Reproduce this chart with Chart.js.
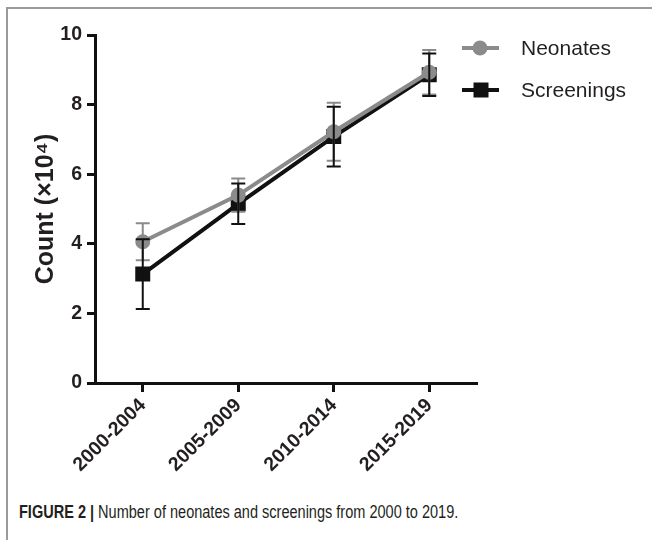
<!DOCTYPE html>
<html>
<head>
<meta charset="utf-8">
<script src="https://cdn.jsdelivr.net/npm/chart.js@4.4.1/dist/chart.umd.min.js"></script>
<style>
  html, body { margin: 0; padding: 0; background: #fff; }
  body { width: 652px; height: 540px; position: relative; overflow: hidden; font-family: "Liberation Sans", Arial, sans-serif; }
  #frame { position: absolute; left: 6px; top: 7px; width: 700px; height: 600px; border-left: 2px solid #9a9a9a; border-top: 2px solid #9a9a9a; }
  #wrap { position: absolute; left: 0; top: 0; width: 652px; height: 480px; }
  #caption { position: absolute; left: 19px; top: 502px; font-size: 17.5px; color: #231f20; white-space: nowrap; transform: scaleX(0.83); transform-origin: 0 0; }
  #caption b { font-weight: bold; }
</style>
</head>
<body>
<div id="frame"></div>
<div id="wrap"><canvas id="c" width="652" height="480"></canvas></div>
<div id="caption"><b>FIGURE 2 |</b> Number of neonates and screenings from 2000 to 2019.</div>
<script>
const categories = ['2000-2004', '2005-2009', '2010-2014', '2015-2019'];
const neonates = [4.06, 5.40, 7.22, 8.93];
const neonatesErr = [0.53, 0.48, 0.83, 0.64];
const screenings = [3.13, 5.15, 7.08, 8.86];
const screeningsErr = [1.00, 0.58, 0.86, 0.61];
const yTicks = [0, 2, 4, 6, 8, 10];
const seriesNames = ['Neonates', 'Screenings'];

const GRAY = '#8b8b8b';
const BLACK = '#111111';

const errorBars = {
  id: 'errorBars',
  afterDatasetsDraw(chart) {
    const ctx = chart.ctx;
    const y = chart.scales.y;
    chart.data.datasets.forEach((ds, i) => {
      const meta = chart.getDatasetMeta(i);
      const errs = ds.errors;
      ctx.save();
      ctx.strokeStyle = ds.borderColor;
      ctx.lineWidth = 2;
      meta.data.forEach((pt, j) => {
        const v = ds.data[j], e = errs[j];
        const yt = y.getPixelForValue(v + e);
        const yb = y.getPixelForValue(v - e);
        const x = pt.x;
        ctx.beginPath();
        ctx.moveTo(x, yt); ctx.lineTo(x, yb);
        ctx.moveTo(x - 7, yt); ctx.lineTo(x + 7, yt);
        ctx.moveTo(x - 7, yb); ctx.lineTo(x + 7, yb);
        ctx.stroke();
      });
      ctx.restore();
    });
  }
};

const customLegend = {
  id: 'customLegend',
  afterDraw(chart) {
    const ctx = chart.ctx;
    const items = [
      { name: seriesNames[0], color: GRAY, style: 'circle', y: 48 },
      { name: seriesNames[1], color: BLACK, style: 'rect', y: 90 }
    ];
    ctx.save();
    items.forEach(it => {
      ctx.strokeStyle = it.color;
      ctx.fillStyle = it.color;
      ctx.lineWidth = 4;
      ctx.beginPath();
      ctx.moveTo(462, it.y); ctx.lineTo(499, it.y);
      ctx.stroke();
      if (it.style === 'circle') {
        ctx.beginPath(); ctx.arc(480, it.y, 7.5, 0, Math.PI * 2); ctx.fill();
      } else {
        ctx.fillRect(473.5, it.y - 7.5, 15, 15);
      }
      ctx.fillStyle = '#231f20';
      ctx.font = '21px "Liberation Sans", Arial, sans-serif';
      ctx.textBaseline = 'middle';
      ctx.textAlign = 'left';
      ctx.fillText(it.name, 521, it.y + 1);
    });
    ctx.restore();
  }
};

new Chart(document.getElementById('c'), {
  type: 'line',
  data: {
    labels: categories,
    datasets: [
      {
        label: seriesNames[0], data: neonates, errors: neonatesErr,
        borderColor: GRAY, backgroundColor: GRAY, borderWidth: 4,
        pointStyle: 'circle', pointRadius: 7.5, pointBackgroundColor: GRAY, pointBorderWidth: 0,
        order: 0
      },
      {
        label: seriesNames[1], data: screenings, errors: screeningsErr,
        borderColor: BLACK, backgroundColor: BLACK, borderWidth: 4,
        pointStyle: 'rect', pointRadius: 10.6, pointBackgroundColor: BLACK, pointBorderWidth: 0,
        order: 1
      }
    ]
  },
  options: {
    responsive: false,
    animation: false,
    events: [],
    layout: { padding: { left: 0, top: 35, right: 175, bottom: 0 } },
    plugins: { legend: { display: false }, tooltip: { enabled: false } },
    scales: {
      x: {
        type: 'category',
        offset: true,
        grid: { display: true, drawOnChartArea: false, drawTicks: true, tickLength: 9, tickWidth: 3, tickColor: BLACK, offset: false },
        border: { display: true, color: BLACK, width: 3 },
        ticks: {
          color: '#231f20', maxRotation: 45, minRotation: 45, padding: 2,
          font: { family: '"Liberation Sans", Arial, sans-serif', size: 19.5, weight: 'bold' }
        },
        afterFit(s) { s.height = 97; }
      },
      y: {
        min: 0, max: 10,
        afterBuildTicks(s) { s.ticks = yTicks.map(v => ({ value: v })); },
        grid: { display: true, drawOnChartArea: false, drawTicks: true, tickLength: 8, tickWidth: 3, tickColor: BLACK },
        border: { display: true, color: BLACK, width: 3 },
        ticks: {
          color: '#231f20', padding: 5,
          font: { family: '"Liberation Sans", Arial, sans-serif', size: 19.5, weight: 'bold' }
        },
        title: {
          display: true, text: 'Count (×10⁴)', color: '#231f20',
          padding: { top: 31, bottom: 0 },
          font: { family: '"Liberation Sans", Arial, sans-serif', size: 25, weight: 'bold' }
        },
        afterFit(s) { s.width = 95; }
      }
    }
  },
  plugins: [errorBars, customLegend]
});
</script>
</body>
</html>
